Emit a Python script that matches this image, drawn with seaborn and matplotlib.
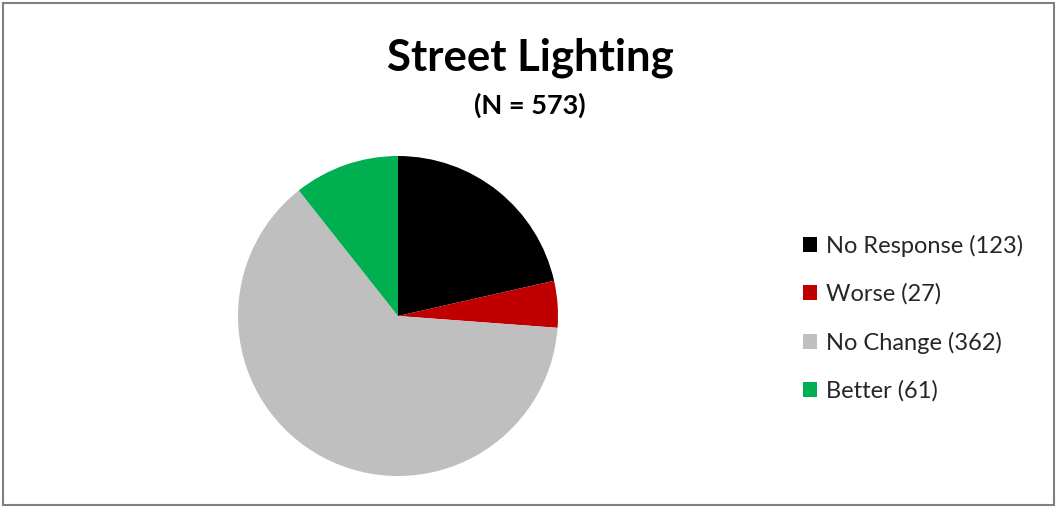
import matplotlib
matplotlib.use("Agg")
import matplotlib.pyplot as plt
from matplotlib.patches import Rectangle, Patch
import seaborn as sns

categories = ["No Response", "Worse", "No Change", "Better"]
counts = [123, 27, 362, 61]
colors = ["#000000", "#C00000", "#BFBFBF", "#00B050"]
title = "Street Lighting"
subtitle = "(N = 573)"

sns.set_theme(style="white")
plt.rcParams["font.family"] = ["Lato", "DejaVu Sans"]

W, H = 1058, 508
fig = plt.figure(figsize=(W / 100, H / 100), dpi=100)
fig.patch.set_facecolor("white")

# outer chart frame
fig.patches.append(Rectangle((3 / W, 3 / H), (W - 7) / W, (H - 6) / H,
                             transform=fig.transFigure, fill=False,
                             edgecolor="#808080", linewidth=1.5))

cx, cy, r = 398, 316, 160
ax = fig.add_axes([(cx - r) / W, (H - cy - r) / H, 2 * r / W, 2 * r / H])
ax.pie(counts, colors=colors, startangle=90, counterclock=False, radius=1,
       wedgeprops=dict(linewidth=0))
ax.set_xlim(-1, 1)
ax.set_ylim(-1, 1)
ax.set_aspect("equal")
ax.axis("off")

fig.text(530 / W, 1 - 58 / H, title, ha="center", va="center",
         fontsize=31.5, fontweight="bold", color="black")
fig.text(530 / W, 1 - 105 / H, subtitle, ha="center", va="center",
         fontsize=19.5, fontweight="bold", color="black")

labels = [f"{c} ({n})" for c, n in zip(categories, counts)]
handles = [Patch(facecolor=col, edgecolor="none") for col in colors]
fig.legend(handles, labels, loc="upper left",
           bbox_to_anchor=(803 / W, 1 - 235 / H), frameon=False,
           fontsize=17, handlelength=0.6, handleheight=0.6,
           handletextpad=0.38, labelspacing=1.12, borderpad=0,
           borderaxespad=0)

fig.savefig("out.png", dpi=100, facecolor="white")
